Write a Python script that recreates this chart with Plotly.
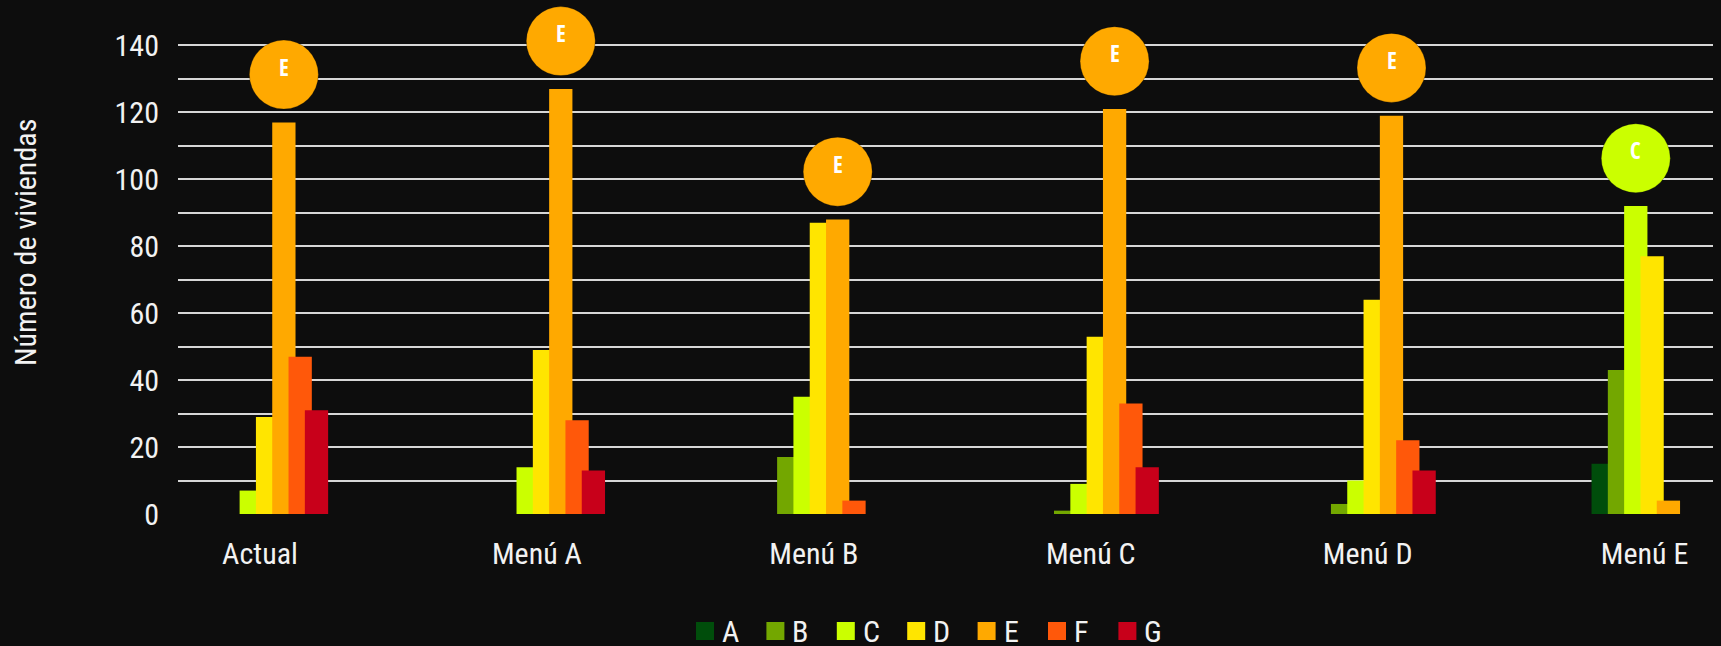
import plotly.graph_objects as go

categories = ["Actual", "Menú A", "Menú B", "Menú C", "Menú D", "Menú E"]
series_names = ["A", "B", "C", "D", "E", "F", "G"]
series_colors = ["#004D0B", "#73A700", "#CBFF00", "#FFE500", "#FFA900", "#FF580A", "#C8001A"]

values_A = [0, 0, 0, 0, 0, 15]
values_B = [0, 0, 17, 1, 3, 43]
values_C = [7, 14, 35, 9, 10, 92]
values_D = [29, 49, 87, 53, 64, 77]
values_E = [117, 127, 88, 121, 119, 4]
values_F = [47, 28, 4, 33, 22, 0]
values_G = [31, 13, 0, 14, 13, 0]
series_values = [values_A, values_B, values_C, values_D, values_E, values_F, values_G]

y_ticks = [0, 20, 40, 60, 80, 100, 120, 140]
y_minor = [10, 30, 50, 70, 90, 110, 130]

FONT = "Roboto Condensed, DejaVu Sans Condensed, sans-serif"
FS = 30
TXT = "#F2F2F2"
BG = "#0D0D0D"
GRID = "#D6D6D6"

W, H = 1721, 646
ML, MR, MT, MB = 178, 8, 12, 132
PW, PH = W - ML - MR, H - MT - MB

first_offset = -0.1914
slot = 0.0589
bar_w = 0.0841
bubble_lift = 14.3

xs = list(range(len(categories)))
fig = go.Figure()
for k, (name, col, vals) in enumerate(zip(series_names, series_colors, series_values)):
    fig.add_trace(go.Bar(
        x=xs, y=vals, name=name, showlegend=False,
        offset=first_offset + k * slot, width=bar_w,
        marker=dict(color=col, line=dict(width=0)),
    ))

bx, by, bc, bt = [], [], [], []
for i in xs:
    col_vals = [s[i] for s in series_values]
    k = max(range(len(col_vals)), key=lambda j: col_vals[j])
    bx.append(i + first_offset + k * slot + bar_w / 2)
    by.append(col_vals[k] + bubble_lift)
    bc.append(series_colors[k])
    bt.append(series_names[k])

fig.add_trace(go.Scatter(
    x=bx, y=by, mode="markers", showlegend=False, cliponaxis=False,
    marker=dict(size=69, color=bc, line=dict(width=1, color="rgba(0,0,0,0.25)")),
    hoverinfo="skip",
))
for x, y, t in zip(bx, by, bt):
    fig.add_annotation(x=x, y=y, text=t, showarrow=False, yshift=8,
                       font=dict(family="Open Sans Condensed", size=23, color="white", weight="bold"))

# y-axis title
fig.add_annotation(xref="paper", yref="paper", x=(25 - ML) / PW, y=(MT + PH - 243) / PH,
                   text="Número de viviendas", textangle=-90, showarrow=False,
                   xanchor="center", yanchor="middle", font=dict(family=FONT, size=FS, color=TXT))

# legend drawn in paper space (squares + labels)
leg_x0, leg_step, leg_sq, leg_y = 696, 70.4, 18, 631
for k, (name, col) in enumerate(zip(series_names, series_colors)):
    x0 = leg_x0 + k * leg_step
    fig.add_shape(type="rect", xref="paper", yref="paper",
                  x0=(x0 - ML) / PW, x1=(x0 + leg_sq - ML) / PW,
                  y0=(MT + PH - leg_y - leg_sq / 2) / PH, y1=(MT + PH - leg_y + leg_sq / 2) / PH,
                  fillcolor=col, line=dict(width=0))
    fig.add_annotation(xref="paper", yref="paper", x=(x0 + leg_sq + 7 - ML) / PW,
                       y=(MT + PH - leg_y) / PH, text=name, showarrow=False, height=28,
                       valign="middle", borderpad=0,
                       xanchor="left", yanchor="middle", font=dict(family=FONT, size=FS, color=TXT))

fig.update_layout(
    width=W, height=H,
    margin=dict(l=ML, r=MR, t=MT, b=MB, autoexpand=False),
    paper_bgcolor=BG, plot_bgcolor=BG,
    barmode="overlay",
    font=dict(family=FONT, size=FS, color=TXT),
    showlegend=False,
    xaxis=dict(
        range=[-0.2961, 5.2473], tickvals=xs, ticktext=categories,
        showgrid=False, zeroline=False, showline=False, ticks="", automargin=False,
        ticklabelstandoff=19, tickfont=dict(family=FONT, size=FS, color=TXT),
        fixedrange=True,
    ),
    yaxis=dict(
        range=[0, 150], tickvals=y_ticks, showgrid=True, gridcolor=GRID, gridwidth=1.5,
        zeroline=False, showline=False, ticks="", ticklabelstandoff=18, automargin=False,
        tickfont=dict(family=FONT, size=FS, color=TXT),
        minor=dict(tickvals=y_minor, showgrid=True, gridcolor=GRID, gridwidth=1.5),
        fixedrange=True,
    ),
)

page_fix = ("document.body.style.margin='0';"
            "document.body.style.background='" + BG + "';")
fig.write_html("out.html", post_script=page_fix, config={"displayModeBar": False})
